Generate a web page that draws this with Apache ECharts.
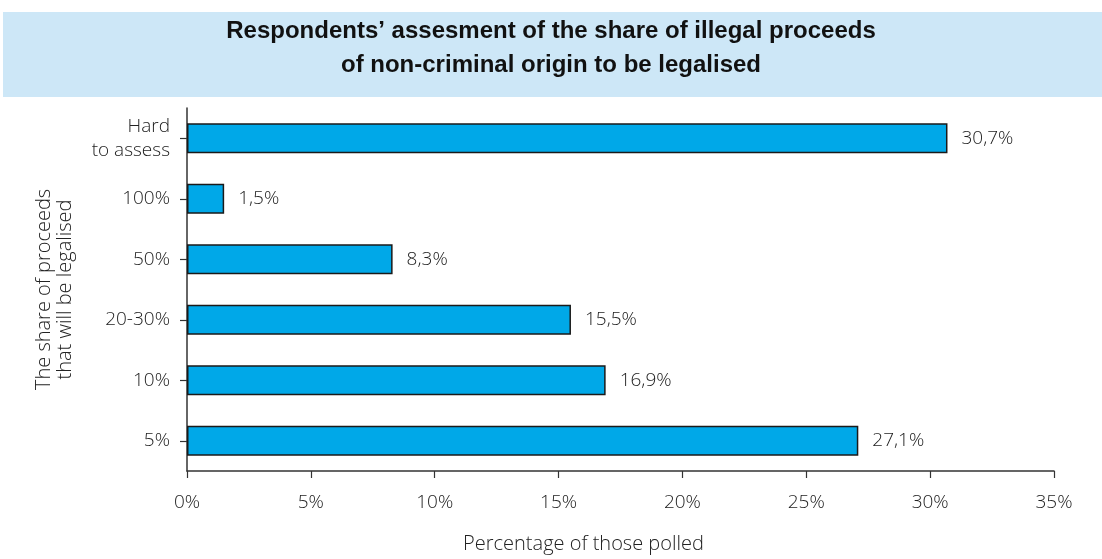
<!DOCTYPE html>
<html>
<head>
<meta charset="utf-8">
<script src="https://cdn.jsdelivr.net/npm/echarts@6/dist/echarts.min.js"></script>
<style>
  html, body { margin: 0; padding: 0; background: #fff; }
  #chart { width: 1102px; height: 559px; }
</style>
</head>
<body>
<div id="chart"></div>
<script>
// Answer categories, bottom to top
const categories = ['5%', '10%', '20-30%', '50%', '100%', 'Hard\nto assess'];
// Share of respondents per answer, %
const shares = [27.1, 16.9, 15.5, 8.3, 1.5, 30.7];
// Horizontal axis ticks, %
const xTicks = [0, 5, 10, 15, 20, 25, 30, 35];

const titleLines = [
  'Respondents\u2019 assesment of the share of illegal proceeds',
  'of non-criminal origin to be legalised'
];

const lightFont = '"Open Sans", Lato, sans-serif';
const textColor = '#222';
const chart = echarts.init(document.getElementById('chart'), null, { renderer: 'canvas' });

chart.setOption({
  animation: false,
  backgroundColor: '#ffffff',
  graphic: [
    {
      type: 'rect',
      shape: { x: 3, y: 12, width: 1099, height: 85 },
      style: { fill: '#cde7f7' },
      silent: true
    },
    {
      type: 'text',
      x: 551,
      y: 14,
      style: {
        text: titleLines.join('\n'),
        fontFamily: '"Liberation Sans", Arial, sans-serif',
        fontWeight: 'bold',
        fontSize: 24,
        lineHeight: 34,
        fill: '#111',
        align: 'center',
        verticalAlign: 'top'
      }
    }
  ],
  grid: { left: 187, right: 48, top: 108, bottom: 88, containLabel: false },
  xAxis: {
    type: 'value',
    min: xTicks[0],
    max: xTicks[xTicks.length - 1],
    interval: 5,
    splitLine: { show: false },
    axisLine: { show: true, lineStyle: { color: '#333', width: 1.5 } },
    axisTick: { show: true, length: 7, inside: false, lineStyle: { color: '#333', width: 1.2 } },
    axisLabel: {
      formatter: v => v + '%',
      fontFamily: lightFont,
      fontWeight: 300,
      fontSize: 19,
      color: textColor,
      margin: 22
    },
    name: 'Percentage of those polled',
    nameLocation: 'middle',
    nameGap: 63,
    nameTextStyle: {
      fontFamily: lightFont,
      fontWeight: 300,
      fontSize: 20,
      color: textColor,
      padding: [0, 74, 0, 0]
    }
  },
  yAxis: {
    type: 'category',
    data: categories,
    axisLine: { show: true, lineStyle: { color: '#333', width: 1.5 } },
    axisTick: { show: true, alignWithLabel: true, length: 7, lineStyle: { color: '#333', width: 1.2 } },
    axisLabel: {
      fontFamily: lightFont,
      fontWeight: 300,
      fontSize: 19,
      color: textColor,
      margin: 17,
      align: 'right',
      lineHeight: 24
    },
    name: 'The share of proceeds\nthat will be legalised',
    nameLocation: 'middle',
    nameRotate: 90,
    nameGap: 111,
    nameTextStyle: {
      fontFamily: lightFont,
      fontWeight: 300,
      fontSize: 20,
      lineHeight: 21,
      color: textColor,
      align: 'center'
    }
  },
  series: [{
    type: 'bar',
    data: shares,
    barWidth: 30,
    itemStyle: { color: '#00a8e8', borderColor: '#1a1a1a', borderWidth: 1.5 },
    label: {
      show: true,
      position: 'right',
      distance: 14,
      formatter: p => String(p.value).replace('.', ',') + '%',
      fontFamily: lightFont,
      fontWeight: 300,
      fontSize: 19,
      color: textColor
    }
  }]
});
</script>
</body>
</html>
